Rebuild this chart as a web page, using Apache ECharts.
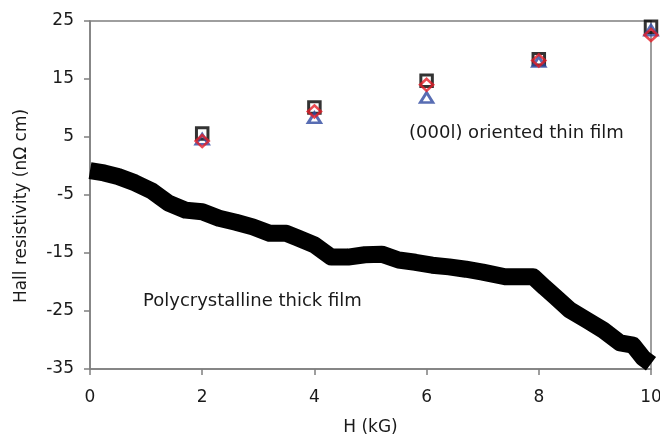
<!DOCTYPE html>
<html>
<head>
<meta charset="utf-8">
<script src="https://cdn.jsdelivr.net/npm/echarts@6/dist/echarts.min.js"></script>
<style>
  html, body { margin: 0; padding: 0; background: #fff; }
  #chart { width: 660px; height: 438px; }
</style>
</head>
<body>
<div id="chart"></div>
<script>
// field values for the (000l) thin film, three samples
const fieldH = [2, 4, 6, 8, 10];
const rhoSquare = [5.6, 10.1, 14.7, 18.4, 24.0];
const rhoTriangle = [4.6, 8.3, 11.8, 18.0, 23.4];
const rhoDiamond = [4.3, 9.4, 14.0, 18.2, 22.6];

// polycrystalline thick film sweep
const polyH = [0, 0.25, 0.5, 0.8, 1.1, 1.4, 1.7, 2.0, 2.3, 2.6, 2.9, 3.2, 3.5, 3.7, 4.0, 4.3, 4.6, 4.9, 5.2,
  5.5, 5.8, 6.1, 6.4, 6.7, 7.0, 7.4, 7.7, 7.9, 8.1, 8.3, 8.55, 8.86, 9.15, 9.45, 9.68, 9.86, 10];
const polyRho = [-0.8, -1.2, -1.8, -2.9, -4.3, -6.4, -7.6, -7.9, -9.0, -9.7, -10.5, -11.6, -11.6, -12.4, -13.6,
  -15.7, -15.7, -15.3, -15.2, -16.2, -16.6, -17.1, -17.4, -17.8, -18.3, -19.1, -19.1, -19.1, -20.9, -22.6,
  -24.8, -26.6, -28.3, -30.5, -30.9, -33.1, -34.1];

const xTicks = [0, 10, 2];     // min, max, step
const yTicks = [-35, 25, 10];

const font = '"DejaVu Sans", sans-serif';
const textColor = '#1a1a1a';
const axisGray = '#7f7f7f';

const chart = echarts.init(document.getElementById('chart'));

const zip = (xs, ys) => xs.map((x, i) => [x, ys[i]]);

chart.setOption({
    animation: false,
    backgroundColor: '#fff',
    grid: {
        left: 90, right: 9, top: 21, bottom: 69,
        outerBoundsMode: 'none',
        show: true, borderColor: axisGray, borderWidth: 1.5
    },
    xAxis: {
        type: 'value',
        min: xTicks[0], max: xTicks[1], interval: xTicks[2],
        name: 'H (kG)',
        nameLocation: 'middle',
        nameGap: 50,
        nameTextStyle: { fontFamily: font, fontSize: 17, color: textColor },
        axisLine: { onZero: false, lineStyle: { color: axisGray, width: 1.5 } },
        axisTick: { show: true, length: 6, lineStyle: { color: axisGray, width: 1.5 } },
        axisLabel: { fontFamily: font, fontSize: 17, color: textColor, margin: 20 },
        splitLine: { show: false }
    },
    yAxis: {
        type: 'value',
        min: yTicks[0], max: yTicks[1], interval: yTicks[2],
        name: 'Hall resistivity (nΩ cm)',
        nameLocation: 'middle',
        nameGap: 60,
        nameTextStyle: { fontFamily: font, fontSize: 17, color: textColor, padding: [0, 22, 0, 0] },
        axisLine: { onZero: false, lineStyle: { color: axisGray, width: 1.5 } },
        axisTick: { show: true, length: 6, lineStyle: { color: axisGray, width: 1.5 } },
        axisLabel: { fontFamily: font, fontSize: 17, color: textColor, margin: 16 },
        splitLine: { show: false }
    },
    graphic: [
        { type: 'text', x: 409, y: 133,
          style: { text: '(000l) oriented thin film', font: '18px ' + font, fill: textColor,
                   align: 'left', verticalAlign: 'middle' } },
        { type: 'text', x: 143, y: 301,
          style: { text: 'Polycrystalline thick film', font: '18px ' + font, fill: textColor,
                   align: 'left', verticalAlign: 'middle' } }
    ],
    series: [
        {
            name: 'Polycrystalline',
            type: 'line',
            data: zip(polyH, polyRho),
            showSymbol: false,
            symbol: 'none',
            lineStyle: { color: '#000', width: 17, join: 'round', cap: 'butt' },
            clip: true,
            z: 2
        },
        {
            name: 'square',
            type: 'scatter',
            data: zip(fieldH, rhoSquare),
            symbol: 'rect',
            symbolSize: 11.5,
            itemStyle: { color: 'transparent', borderColor: '#000', borderWidth: 3 },
            clip: false,
            z: 3
        },
        {
            name: 'triangle',
            type: 'scatter',
            data: zip(fieldH, rhoTriangle),
            symbol: 'triangle',
            symbolSize: [12.5, 10],
            itemStyle: { color: 'transparent', borderColor: '#2e48a0', borderWidth: 2.8 },
            clip: false,
            z: 4
        },
        {
            name: 'diamond',
            type: 'scatter',
            data: zip(fieldH, rhoDiamond),
            symbol: 'diamond',
            symbolSize: [13, 12],
            itemStyle: { color: 'transparent', borderColor: '#e61e28', borderWidth: 2.6 },
            clip: false,
            z: 5
        }
    ]
});

window.addEventListener('resize', () => {
    chart.resize();
});
</script>
</body>
</html>
